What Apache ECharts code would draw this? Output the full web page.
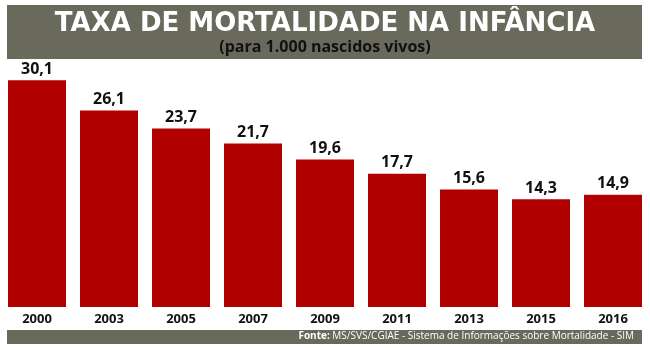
<!DOCTYPE html>
<html>
<head>
<meta charset="utf-8">
<script src="https://cdn.jsdelivr.net/npm/echarts@6/dist/echarts.min.js"></script>
<style>html,body{margin:0;padding:0;background:#fff;}#c{width:650px;height:350px;}</style>
</head>
<body>
<div id="c"></div>
<script>
const categories = ['2000','2003','2005','2007','2009','2011','2013','2015','2016'];
const values = [30.1, 26.1, 23.7, 21.7, 19.6, 17.7, 15.6, 14.3, 14.9];
const titleText = 'TAXA DE MORTALIDADE NA INFÂNCIA';
const subtitleText = '(para 1.000 nascidos vivos)';
const sourceLabel = 'Fonte:';
const sourceText = ' MS/SVS/CGIAE - Sistema de Informações sobre Mortalidade - SIM';

const FONT = '"Open Sans", sans-serif';
const chart = echarts.init(document.getElementById('c'), null, {renderer: 'canvas'});
chart.setOption({
  backgroundColor: '#ffffff',
  animation: false,
  graphic: [
    {type: 'rect', left: 7, top: 5, shape: {width: 635, height: 54}, style: {fill: '#69695c'}, silent: true, z: 0},
    {type: 'rect', left: 7, top: 330, shape: {width: 635, height: 14}, style: {fill: '#69695c'}, silent: true, z: 0},
    {type: 'text', right: 16, top: 331, z: 5,
      style: {
        text: '{b|' + sourceLabel + '}{n|' + sourceText + '}',
        rich: {
          b: {fontFamily: FONT, fontSize: 10, fontWeight: 'bold', fill: '#ffffff', color: '#ffffff'},
          n: {fontFamily: FONT, fontSize: 10, fill: '#ffffff', color: '#ffffff'}
        }
      }
    }
  ],
  title: [
    {text: titleText, left: 'center', top: 6,
      textStyle: {color: '#ffffff', fontFamily: '"DejaVu Sans", sans-serif', fontWeight: 'bold', fontSize: 26}},
    {text: subtitleText, left: 'center', top: 34,
      textStyle: {color: '#111111', fontFamily: FONT, fontWeight: 'bold', fontSize: 16}}
  ],
  grid: {left: 1, width: 648, top: 66, bottom: 43, containLabel: false},
  xAxis: {
    type: 'category', data: categories,
    axisLine: {show: false}, axisTick: {show: false},
    axisLabel: {color: '#111111', fontFamily: FONT, fontWeight: 'bold', fontSize: 13, margin: 6}
  },
  yAxis: {type: 'value', min: 0, max: 32, show: false, splitLine: {show: false}},
  series: [{
    type: 'bar', data: values, barWidth: 58,
    itemStyle: {color: '#b10000'},
    label: {show: true, position: 'top', distance: 3, color: '#111111', fontFamily: FONT, fontWeight: 'bold', fontSize: 16,
      formatter: p => p.value.toFixed(1).replace('.', ',')}
  }]
});
</script>
</body>
</html>
